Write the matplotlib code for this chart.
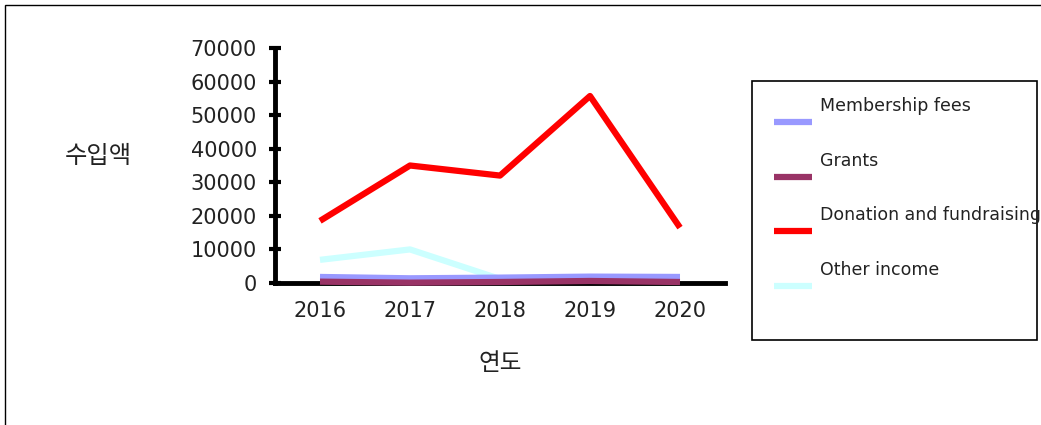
import matplotlib
matplotlib.use("Agg")
import matplotlib.pyplot as plt
from matplotlib.lines import Line2D
from matplotlib.patches import Rectangle

plt.rcParams['font.family'] = ['DejaVu Sans', 'Noto Sans CJK KR']

years = ["2016", "2017", "2018", "2019", "2020"]
membership = [1800, 1400, 1600, 1900, 1800]
grants = [400, 100, 300, 600, 300]
donation = [18500, 35000, 32000, 55700, 16500]
other = [6900, 10000, 1200, 1200, 1200]

series = [
    ("Membership fees", membership, "#9999FF"),
    ("Grants", grants, "#993366"),
    ("Donation and fundraising", donation, "#FF0000"),
    ("Other income", other, "#CCFFFF"),
]
zorders = {"Membership fees": 3, "Grants": 4, "Donation and fundraising": 5, "Other income": 2}

W, H = 1041, 425
fig = plt.figure(figsize=(W / 100, H / 100), dpi=100)

# outer frame
fig.add_artist(Rectangle((5 / W, -0.1), 1.2, 1 - 5 / H + 0.1, transform=fig.transFigure,
                         fill=False, edgecolor="black", linewidth=1))

ax = fig.add_axes([275 / W, 1 - 283 / H, 450 / W, 235 / H])
x = list(range(len(years)))
for name, vals, col in series:
    ax.plot(x, vals, color=col, linewidth=4.5, solid_capstyle="butt", zorder=zorders[name], clip_on=False)

ax.set_xlim(-0.5, 4.5)
ax.set_ylim(0, 70000)
ax.set_yticks(range(0, 70001, 10000))
ax.set_xticks(x)
ax.set_xticklabels(years)
for s in ["top", "right"]:
    ax.spines[s].set_visible(False)
ax.spines["left"].set_linewidth(3.5)
ax.spines["bottom"].set_linewidth(3.5)
ax.spines["bottom"].set_zorder(1)
ax.tick_params(axis="y", direction="inout", length=8, width=3, labelsize=15, pad=9, labelcolor="#222222")
ax.tick_params(axis="x", length=0, labelsize=15, pad=13, labelcolor="#222222")
ax.patch.set_alpha(0)

fig.text(98 / W, 1 - 156 / H, "수입액", fontsize=17.5, ha="center", va="center",
         family=['Noto Sans CJK KR'], color="#222222")
fig.text(500 / W, 1 - 363 / H, "연도", fontsize=17, ha="center", va="center",
         family=['Noto Sans CJK KR'], color="#222222")

# legend box
lx0, ly0, lx1, ly1 = 752, 81, 1037, 340
fig.add_artist(Rectangle((lx0 / W, 1 - ly1 / H), (lx1 - lx0) / W, (ly1 - ly0) / H,
                         transform=fig.transFigure, fill=False, edgecolor="black", linewidth=1.2))
line_y = [122, 177, 231, 286]
for (name, vals, col), yy in zip(series, line_y):
    fig.add_artist(Line2D([774 / W, 812 / W], [1 - yy / H, 1 - yy / H], transform=fig.transFigure,
                          color=col, linewidth=4.5, solid_capstyle="butt"))
    fig.text(820 / W, 1 - (yy - 16) / H, name, fontsize=12.5, ha="left", va="center", color="#222222")

fig.savefig("out.png", dpi=100)
